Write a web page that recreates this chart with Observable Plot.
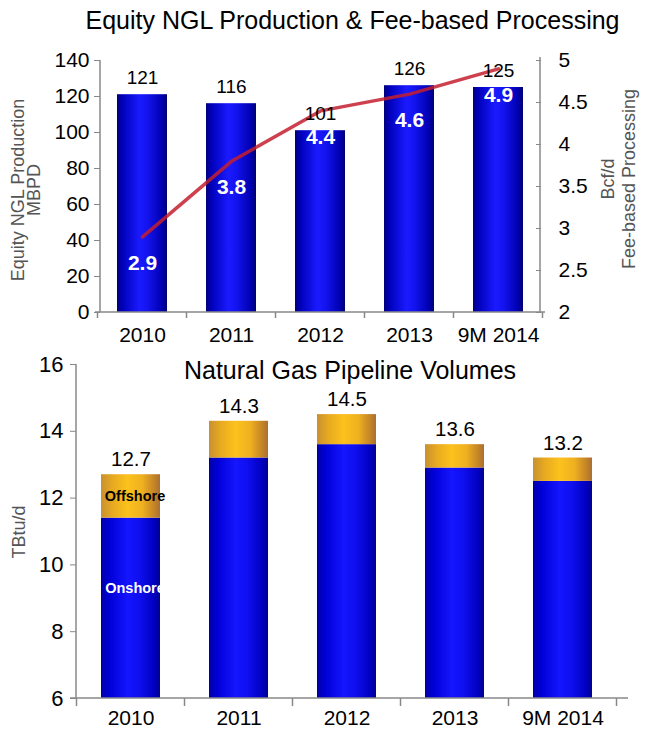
<!DOCTYPE html>
<html><head><meta charset="utf-8">
<script src="https://cdn.jsdelivr.net/npm/d3@7"></script>
<script src="https://cdn.jsdelivr.net/npm/@observablehq/plot@0.6"></script>
<style>
body{margin:0;background:#fff;font-family:"Liberation Sans",Arial,sans-serif;}
#wrap{position:relative;width:645px;height:740px;overflow:hidden;background:#fff}
.title{position:absolute;left:0;width:705px;text-align:center;font-size:25px;color:#000;line-height:26px;white-space:nowrap}
.rot{position:absolute;transform:translate(-50%,-50%) rotate(-90deg);white-space:nowrap;text-align:center;color:#555;font-size:18px}
#topc{position:absolute;left:0;top:0}
#botc{position:absolute;left:0;top:345px}
svg{overflow:visible}
</style>
</head><body>
<div id="wrap">
  <div id="topc"></div>
  <div id="botc"></div>
  <div class="title" style="top:7px">Equity NGL Production &amp; Fee-based Processing</div>
  <div class="title" style="top:357px;width:700px">Natural Gas Pipeline Volumes</div>
  <div class="rot" style="left:26px;top:190px;line-height:16px">Equity NGL Production<br>MBPD</div>
  <div class="rot" style="left:619px;top:179px;line-height:21px">Bcf/d<br>Fee-based Processing</div>
  <div class="rot" style="left:19px;top:532px;line-height:18px">TBtu/d</div>
</div>
<script>
const years = ["2010", "2011", "2012", "2013", "9M 2014"];
const nglProduction = [121, 116, 101, 126, 125];
const feeProcessing = [2.9, 3.8, 4.4, 4.6, 4.9];
const nglTicks = [0, 20, 40, 60, 80, 100, 120, 140];
const feeTicks = [2, 2.5, 3, 3.5, 4, 4.5, 5];
const onshore = [11.4, 13.2, 13.6, 12.9, 12.5];
const offshore = [1.3, 1.1, 0.9, 0.7, 0.7];
const totals = [12.7, 14.3, 14.5, 13.6, 13.2];
const volTicks = [6, 8, 10, 12, 14, 16];

const nglDomain = [0, 140];
const feeDomain = [2, 5];
const toNgl = v => (v - feeDomain[0]) / (feeDomain[1] - feeDomain[0]) * (nglDomain[1] - nglDomain[0]) + nglDomain[0];
const fromNgl = v => +((v - nglDomain[0]) / (nglDomain[1] - nglDomain[0]) * (feeDomain[1] - feeDomain[0]) + feeDomain[0]).toFixed(2);

const topData = years.map((y, i) => ({year: y, ngl: nglProduction[i], fee: feeProcessing[i]}));
const volData = years.map((y, i) => ({year: y, on: onshore[i], off: offshore[i], total: totals[i]}));

const FONT = '"Liberation Sans", Arial, sans-serif';

function addGradients(svg) {
  const defs = d3.select(svg).insert("defs", ":first-child");
  const mk = (id, stops) => {
    const g = defs.append("linearGradient").attr("id", id)
      .attr("x1", "0").attr("x2", "1").attr("y1", "0").attr("y2", "0");
    stops.forEach(([o, c]) => g.append("stop").attr("offset", o).attr("stop-color", c));
  };
  mk("blueTop", [[0, "#00007a"], [0.1, "#0000b8"], [0.45, "#1a1aff"], [0.6, "#1414f0"], [0.9, "#0000b0"], [1, "#000070"]]);
  mk("blueBot", [[0, "#0000a8"], [0.15, "#0000d8"], [0.45, "#1515ff"], [0.65, "#0f0ff0"], [0.9, "#0000c0"], [1, "#000090"]]);
  mk("gold", [[0, "#c89030"], [0.2, "#e8aa20"], [0.45, "#fcc21c"], [0.7, "#efb020"], [0.92, "#c08028"], [1, "#a87034"]]);
}

function axisLine(svg, x1, y1, x2, y2) {
  d3.select(svg).append("line").attr("x1", x1).attr("y1", y1).attr("x2", x2).attr("y2", y2)
    .attr("stroke", "#888").attr("stroke-width", 1.5);
}

// small tick marks at the category boundaries, from the band scale
function bandTicks(svg, len) {
  const xs = svg.scale("x"), ys = svg.scale("y");
  const y0 = ys.apply(ys.domain[0]);
  const gap = (xs.step - xs.bandwidth) / 2;
  const bounds = xs.domain.map(d => xs.apply(d) - gap);
  bounds.push(xs.apply(xs.domain[xs.domain.length - 1]) + xs.bandwidth + gap);
  bounds.forEach(b => axisLine(svg, b, y0, b, y0 + len));
}

// ---------- Top chart ----------
const topW = 645, topH = 345, tML = 100, tMR = 105, tMT = 60, tMB = 33;
const topPlot = Plot.plot({
  width: topW, height: topH,
  marginLeft: tML, marginRight: tMR, marginTop: tMT, marginBottom: tMB,
  style: {fontFamily: FONT, fontSize: "21px", color: "#000", background: "transparent", overflow: "visible"},
  x: {domain: years, paddingInner: 0.44, paddingOuter: 0.19, label: null},
  y: {domain: nglDomain, label: null},
  marks: [
    Plot.barY(topData, {x: "year", y: "ngl", fill: "url(#blueTop)"}),
    Plot.axisX({tickSize: 0, tickPadding: 15, label: null, fontSize: 21}),
    Plot.axisY(nglTicks, {tickSize: 6, tickPadding: 5, label: null, stroke: "#888", fontSize: 21}),
    Plot.axisY(feeTicks.map(toNgl), {anchor: "right", tickSize: -5, tickPadding: 23, label: null, stroke: "#888", fontSize: 21, tickFormat: d => String(fromNgl(d))}),
    Plot.line(topData, {x: "year", y: d => toNgl(d.fee), stroke: "#c41e2e", strokeWidth: 3.5, strokeOpacity: 0.85}),
    Plot.text(topData, {x: "year", y: "ngl", text: d => String(d.ngl), dy: -17, fontSize: 19, fill: "#000"}),
    Plot.text(topData, {x: "year", y: d => toNgl(d.fee), text: d => d.fee.toFixed(1), dy: 26, fill: "#fff", fontWeight: "bold", fontSize: 21})
  ]
});
addGradients(topPlot);
{
  const ys = topPlot.scale("y");
  axisLine(topPlot, tML, ys.apply(nglDomain[1]), tML, ys.apply(nglDomain[0]));
  axisLine(topPlot, topW - tMR, ys.apply(nglDomain[1]) - 3, topW - tMR, ys.apply(nglDomain[0]));
  axisLine(topPlot, tML - 5, ys.apply(nglDomain[0]), topW - tMR + 5, ys.apply(nglDomain[0]));
  bandTicks(topPlot, 6);
}
document.getElementById("topc").appendChild(topPlot);

// ---------- Bottom chart ----------
const botW = 645, botH = 395, bML = 76, bMR = 27, bMT = 19, bMB = 42;
const volDomain = [6, 16];
const botPlot = Plot.plot({
  width: botW, height: botH,
  marginLeft: bML, marginRight: bMR, marginTop: bMT, marginBottom: bMB,
  style: {fontFamily: FONT, fontSize: "21px", color: "#000", background: "transparent", overflow: "visible"},
  x: {domain: years, paddingInner: 0.45, paddingOuter: 0.22, label: null},
  y: {domain: volDomain, label: null},
  marks: [
    Plot.barY(volData, {x: "year", y1: 0, y2: "on", fill: "url(#blueBot)", clip: true}),
    Plot.barY(volData, {x: "year", y1: "on", y2: d => d.on + d.off, fill: "url(#gold)"}),
    Plot.axisX({tickSize: 0, tickPadding: 12, label: null, fontSize: 21}),
    Plot.axisY(volTicks, {tickSize: 6, tickPadding: 7, label: null, stroke: "#888", fontSize: 22}),
    Plot.text(volData, {x: "year", y: d => d.on + d.off, text: d => d.total.toFixed(1), dy: -15, fontSize: 20.5, fill: "#000"}),
    Plot.text(volData.slice(0, 1), {x: "year", y: d => d.on + d.off / 2, text: () => "Offshore", dx: 4, fontSize: 14.5, fontWeight: "bold", fill: "#000"}),
    Plot.text(volData.slice(0, 1), {x: "year", y: "on", text: () => "Onshore", dx: 4, dy: 70, fontSize: 14.5, fontWeight: "bold", fill: "#fff"})
  ]
});
addGradients(botPlot);
{
  const ys = botPlot.scale("y");
  axisLine(botPlot, bML, ys.apply(volDomain[1]), bML, ys.apply(volDomain[0]));
  axisLine(botPlot, bML - 6, ys.apply(volDomain[0]), botW - bMR + 10, ys.apply(volDomain[0]));
  bandTicks(botPlot, 8);
}
document.getElementById("botc").appendChild(botPlot);
</script>
</body></html>
